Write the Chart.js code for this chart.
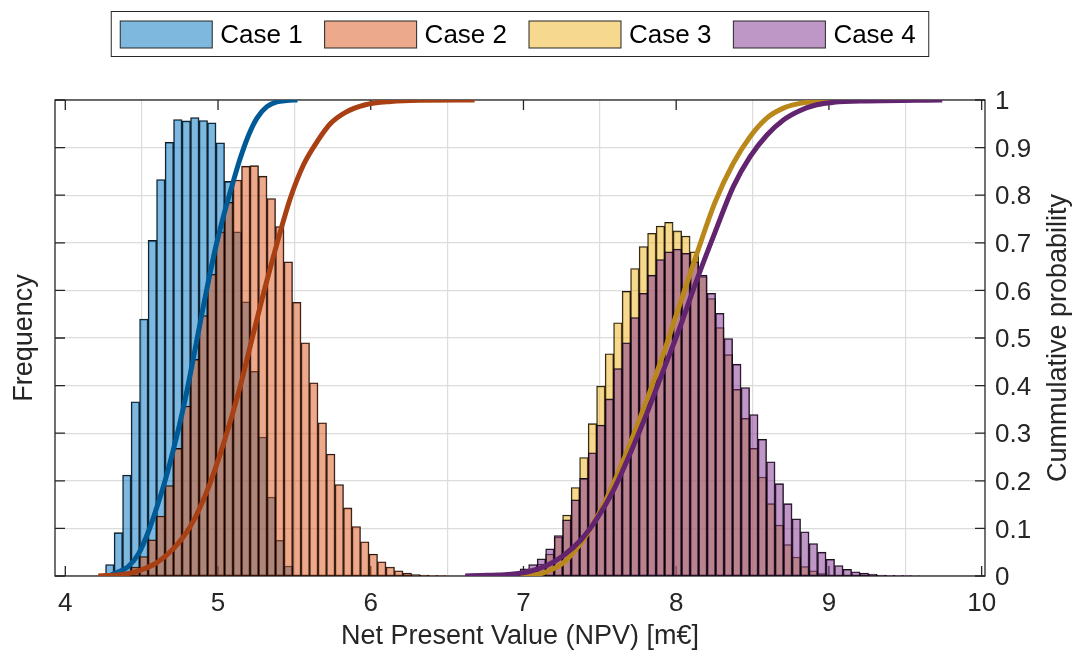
<!DOCTYPE html>
<html>
<head>
<meta charset="utf-8">
<script src="https://cdn.jsdelivr.net/npm/chart.js@4.4.0/dist/chart.umd.min.js"></script>
<style>
  html, body { margin: 0; padding: 0; background: #ffffff; }
  #wrap { width: 1075px; height: 653px; }
</style>
</head>
<body>
<div id="wrap"><canvas id="chart" width="1075" height="653"></canvas></div>
<script>
// ---------------- data ----------------
const caseLabels = ['Case 1', 'Case 2', 'Case 3', 'Case 4'];
const xAxisTitle = 'Net Present Value (NPV) [m€]';
const leftAxisTitle = 'Frequency';
const rightAxisTitle = 'Cummulative probability';

const xTickValues = [4, 5, 6, 7, 8, 9, 10];
const probTickValues = [0, 0.1, 0.2, 0.3, 0.4, 0.5, 0.6, 0.7, 0.8, 0.9, 1];
const probTickLabels = ['0', '0.1', '0.2', '0.3', '0.4', '0.5', '0.6', '0.7', '0.8', '0.9', '1'];

// histogram bins (left edge of first bin and common bin width)
const binWidth = 0.05564;
const binStartCase12 = 4.2638;
const binStartCase34 = 6.867;

// bar heights (relative frequency, in axis units)
const freqCase1 = [0.024, 0.091, 0.212, 0.366, 0.540, 0.705, 0.833, 0.911, 0.959, 0.956, 0.963,
  0.957, 0.952, 0.910, 0.829, 0.723, 0.576, 0.430, 0.292, 0.166, 0.075, 0.021];
const freqCase2 = [0.002, 0.005, 0.008, 0.019, 0.041, 0.076, 0.126, 0.190, 0.268, 0.357, 0.455,
  0.547, 0.634, 0.723, 0.785, 0.832, 0.861, 0.862, 0.840, 0.793, 0.734, 0.660, 0.575, 0.490,
  0.406, 0.322, 0.256, 0.192, 0.143, 0.104, 0.072, 0.046, 0.030, 0.019, 0.011, 0.006, 0.003,
  0.002, 0.001, 0.001];
const freqCase3 = [0.000, 0.002, 0.006, 0.012, 0.025, 0.046, 0.082, 0.128, 0.186, 0.249, 0.320,
  0.399, 0.467, 0.532, 0.598, 0.646, 0.692, 0.720, 0.735, 0.743, 0.725, 0.714, 0.681, 0.629,
  0.583, 0.522, 0.465, 0.392, 0.331, 0.268, 0.208, 0.152, 0.107, 0.066, 0.040, 0.020, 0.011,
  0.005, 0.002, 0.001];
const freqCase4 = [0.002, 0.007, 0.015, 0.024, 0.036, 0.057, 0.085, 0.118, 0.160, 0.205, 0.259,
  0.317, 0.372, 0.436, 0.490, 0.543, 0.594, 0.632, 0.665, 0.681, 0.687, 0.678, 0.660, 0.632,
  0.594, 0.552, 0.499, 0.445, 0.396, 0.339, 0.287, 0.240, 0.194, 0.152, 0.120, 0.093, 0.068,
  0.050, 0.035, 0.022, 0.014, 0.009, 0.006, 0.004, 0.002, 0.0015, 0.001, 0.001, 0.0005];

// cumulative probability curves (x in m€, cumulative probability)
const cdfCase1X = [4.30, 4.32, 4.41, 4.48, 4.545, 4.60, 4.655, 4.71, 4.765, 4.81, 4.855, 4.905,
  4.98, 5.035, 5.09, 5.145, 5.20, 5.255, 5.32, 5.385, 5.45, 5.52];
const cdfCase1Y = [0.002, 0.005, 0.019, 0.047, 0.094, 0.145, 0.202, 0.268, 0.342, 0.410, 0.485, 0.568,
  0.684, 0.755, 0.818, 0.877, 0.926, 0.962, 0.986, 0.996, 0.999, 1.0];
const cdfCase2X = [4.216, 4.39, 4.49, 4.60, 4.71, 4.82, 4.93, 5.035, 5.145, 5.21, 5.275, 5.36,
  5.475, 5.56, 5.65, 5.735, 5.835, 5.965, 6.13, 6.32, 6.68];
const cdfCase2Y = [0.0, 0.004, 0.012, 0.028, 0.058, 0.105, 0.180, 0.277, 0.398, 0.482, 0.565, 0.668,
  0.795, 0.864, 0.913, 0.950, 0.974, 0.990, 0.997, 0.9995, 1.0];
const cdfCase3X = [6.98, 7.10, 7.153, 7.262, 7.371, 7.48, 7.589, 7.698, 7.807, 7.916, 8.025, 8.135,
  8.254, 8.374, 8.484, 8.593, 8.702, 8.812, 9.01, 9.40];
const cdfCase3Y = [0.001, 0.004, 0.009, 0.028, 0.067, 0.123, 0.194, 0.278, 0.369, 0.467, 0.572, 0.677,
  0.785, 0.867, 0.923, 0.962, 0.983, 0.993, 0.999, 1.0];
const cdfCase4X = [6.618, 6.72, 6.83, 6.934, 7.044, 7.153, 7.262, 7.371, 7.48, 7.589, 7.698, 7.807,
  7.916, 8.025, 8.135, 8.254, 8.374, 8.484, 8.593, 8.702, 8.812, 8.92, 9.03, 9.25, 9.742];
const cdfCase4Y = [0.0, 0.001, 0.002, 0.004, 0.010, 0.022, 0.043, 0.074, 0.120, 0.180, 0.257, 0.341,
  0.432, 0.523, 0.622, 0.722, 0.818, 0.881, 0.926, 0.958, 0.978, 0.990, 0.995, 0.998, 1.0];

// ---------------- styling ----------------
const FONT = '"Liberation Sans", Arial, Helvetica, sans-serif';
const TEXT = '#262626';
const barFill = ['rgba(0,114,189,0.5)', 'rgba(217,83,25,0.5)', 'rgba(237,177,32,0.5)', 'rgba(126,47,142,0.5)'];
const lineStroke = ['rgb(0,90,150)', 'rgb(168,64,20)', 'rgb(186,136,26)', 'rgb(98,36,110)'];
const GRID = '#dcdcdc';

Chart.defaults.font.family = FONT;
Chart.defaults.color = TEXT;

function binPoints(start, heights) {
  return heights.map((h, i) => ({ x: start + (i + 0.5) * binWidth, y: h }));
}
function curvePoints(xs, ys) {
  return xs.map((x, i) => ({ x: x, y: ys[i] }));
}

const barSeries = [
  binPoints(binStartCase12, freqCase1),
  binPoints(binStartCase12, freqCase2),
  binPoints(binStartCase34, freqCase3),
  binPoints(binStartCase34, freqCase4)
];
const cdfSeries = [
  curvePoints(cdfCase1X, cdfCase1Y),
  curvePoints(cdfCase2X, cdfCase2Y),
  curvePoints(cdfCase3X, cdfCase3Y),
  curvePoints(cdfCase4X, cdfCase4Y)
];

const datasets = [];
barSeries.forEach((d, i) => {
  datasets.push({
    type: 'bar', label: caseLabels[i], data: d,
    backgroundColor: barFill[i], borderColor: 'rgba(0,0,0,0.92)', borderWidth: 0.9,
    borderSkipped: false, grouped: false, barPercentage: 1, categoryPercentage: 1,
    xAxisID: 'x', yAxisID: 'y', order: 8 - i
  });
});
cdfSeries.forEach((d, i) => {
  datasets.push({
    type: 'line', label: caseLabels[i] + ' CDF', data: d,
    borderColor: lineStroke[i], borderWidth: 5, pointRadius: 0, fill: false,
    cubicInterpolationMode: 'monotone', xAxisID: 'x', yAxisID: 'y1', order: 4 - i
  });
});

// frame with inward ticks (drawn under the data, like MATLAB's bottom layer)
const framePlugin = {
  id: 'frame',
  beforeDatasetsDraw(chart) {
    const { ctx, chartArea: a, scales } = chart;
    const L = 10;
    ctx.save();
    ctx.strokeStyle = TEXT;
    ctx.lineWidth = 1.3;
    ctx.beginPath();
    scales.x.ticks.forEach(t => {
      const px = scales.x.getPixelForValue(t.value);
      ctx.moveTo(px, a.bottom); ctx.lineTo(px, a.bottom - L);
      ctx.moveTo(px, a.top); ctx.lineTo(px, a.top + L);
    });
    scales.y.ticks.forEach(t => {
      const py = scales.y.getPixelForValue(t.value);
      ctx.moveTo(a.left, py); ctx.lineTo(a.left + L, py);
    });
    scales.y1.ticks.forEach(t => {
      const py = scales.y1.getPixelForValue(t.value);
      ctx.moveTo(a.right, py); ctx.lineTo(a.right - L, py);
    });
    ctx.stroke();
    ctx.strokeRect(a.left, a.top, a.right - a.left, a.bottom - a.top);
    ctx.restore();
  }
};

// right axis title reading bottom-to-top, as in the reference
const rightTitlePlugin = {
  id: 'rightTitle',
  afterDraw(chart) {
    const { ctx, chartArea: a } = chart;
    ctx.save();
    ctx.translate(a.right + 80.5, (a.top + a.bottom) / 2);
    ctx.rotate(-Math.PI / 2);
    ctx.font = '27px ' + FONT;
    ctx.fillStyle = TEXT;
    ctx.textAlign = 'center';
    ctx.textBaseline = 'alphabetic';
    ctx.fillText(rightAxisTitle, 0, 0);
    ctx.restore();
  }
};

// boxed legend listing the histogram series
const boxLegendPlugin = {
  id: 'boxLegend',
  afterDraw(chart) {
    const ctx = chart.ctx;
    const a = chart.chartArea;
    const items = chart.data.datasets.filter(d => d.type === 'bar');
    const swW = 92, swH = 27, gapText = 8, gapItem = 22, padL = 9, padR = 13;
    const boxTop = 11.5, boxH = 45, swTop = 21;
    ctx.save();
    ctx.font = '26px ' + FONT;
    const widths = items.map(d => swW + gapText + ctx.measureText(d.label).width);
    const total = padL + widths.reduce((s, w) => s + w, 0) + gapItem * (items.length - 1) + padR;
    const x0 = (a.left + a.right) / 2 - total / 2;
    ctx.fillStyle = '#ffffff';
    ctx.fillRect(x0, boxTop, total, boxH);
    ctx.strokeStyle = TEXT;
    ctx.lineWidth = 1;
    ctx.strokeRect(x0, boxTop, total, boxH);
    let x = x0 + padL;
    items.forEach((d, i) => {
      ctx.fillStyle = d.backgroundColor;
      ctx.fillRect(x, swTop, swW, swH);
      ctx.strokeStyle = TEXT;
      ctx.lineWidth = 1;
      ctx.strokeRect(x, swTop, swW, swH);
      ctx.fillStyle = '#000000';
      ctx.textAlign = 'left';
      ctx.textBaseline = 'middle';
      ctx.fillText(d.label, x + swW + gapText, swTop + swH / 2 + 1);
      x += widths[i] + gapItem;
    });
    ctx.restore();
  }
};

new Chart(document.getElementById('chart'), {
  type: 'bar',
  data: { datasets: datasets },
  options: {
    responsive: false,
    animation: false,
    devicePixelRatio: 1,
    layout: { padding: { top: 100, left: 0, right: 0, bottom: 0 } },
    plugins: { legend: { display: false }, tooltip: { enabled: false } },
    scales: {
      x: {
        type: 'linear', position: 'bottom', min: 3.9326, max: 10.022, offset: false,
        afterBuildTicks: s => { s.ticks = xTickValues.map(v => ({ value: v })); },
        ticks: { font: { size: 26 }, color: TEXT, padding: 12, maxRotation: 0, autoSkip: false },
        grid: { color: GRID, lineWidth: 1.2, drawTicks: false },
        border: { display: false },
        title: { display: true, text: xAxisTitle, font: { size: 27 }, color: TEXT, padding: { top: 0, bottom: 0 } },
        afterFit: s => { s.height = 77; }
      },
      y: {
        type: 'linear', position: 'left', min: 0, max: 1,
        afterBuildTicks: s => { s.ticks = probTickValues.map(v => ({ value: v })); },
        ticks: { display: false },
        grid: { display: false },
        border: { display: false },
        title: { display: true, text: leftAxisTitle, font: { size: 27 }, color: TEXT, padding: { top: 8, bottom: 0 } },
        afterFit: s => { s.width = 55; }
      },
      y1: {
        type: 'linear', position: 'right', min: 0, max: 1,
        afterBuildTicks: s => { s.ticks = probTickValues.map(v => ({ value: v })); },
        ticks: {
          font: { size: 26 }, color: TEXT, padding: 10, labelOffset: 2,
          callback: (v, i) => probTickLabels[i]
        },
        grid: { color: GRID, lineWidth: 1.2, drawTicks: false },
        border: { display: false },
        afterFit: s => { s.width = 90; }
      }
    }
  },
  plugins: [framePlugin, rightTitlePlugin, boxLegendPlugin]
});
</script>
</body>
</html>
